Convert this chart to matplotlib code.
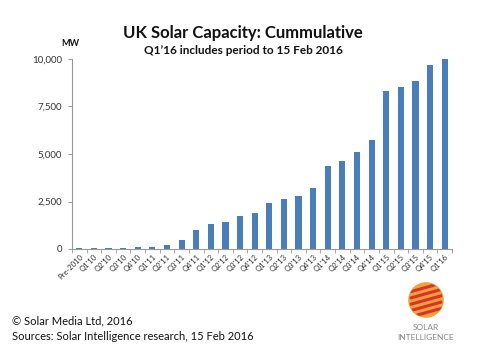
import matplotlib
matplotlib.use("Agg")
import matplotlib.pyplot as plt
import numpy as np
from matplotlib.patches import Circle

plt.rcParams['font.family'] = ['Lato', 'DejaVu Sans']

categories = ["Pre-2010", "Q1'10", "Q2'10", "Q3'10", "Q4'10",
              "Q1'11", "Q2'11", "Q3'11", "Q4'11",
              "Q1'12", "Q2'12", "Q3'12", "Q4'12",
              "Q1'13", "Q2'13", "Q3'13", "Q4'13",
              "Q1'14", "Q2'14", "Q3'14", "Q4'14",
              "Q1'15", "Q2'15", "Q3'15", "Q4'15", "Q1'16"]
capacity_mw = [30, 35, 50, 60, 90,
               120, 210, 490, 1000,
               1300, 1440, 1735, 1890,
               2435, 2645, 2800, 3190,
               4360, 4625, 5130, 5760,
               8300, 8550, 8860, 9670, 10000]
ytick_values = [0, 2500, 5000, 7500, 10000]
ytick_labels = ["0", "2,500", "5,000", "7,500", "10,000"]

W, H = 489, 358
fig = plt.figure(figsize=(W/100, H/100), dpi=100)
fig.patch.set_facecolor("white")

ax = fig.add_axes([72/W, 1-249/H, (452-72)/W, (249-59)/H])
x = np.arange(len(categories))
ax.bar(x, capacity_mw, width=0.42, color="#4a7ebb")
ax.set_xlim(-0.5, len(categories)-0.5)
ax.set_ylim(0, 10000)
ax.set_yticks(ytick_values)
ax.set_yticklabels(ytick_labels, fontsize=7, color="#333333")
ax.set_xticks(x)
ax.set_xticklabels(categories, rotation=45, ha="right", rotation_mode="anchor",
                   fontsize=5.5, color="#333333")
ax.tick_params(axis="x", length=0, pad=3)
ax.set_xticks(np.arange(-0.5, len(categories), 1), minor=True)
ax.tick_params(axis="x", which="minor", length=3, color="#999999", direction="out")
ax.tick_params(axis="y", length=3, color="#999999", direction="out", pad=4)
for s in ["top", "right"]:
    ax.spines[s].set_visible(False)
for s in ["left", "bottom"]:
    ax.spines[s].set_color("#999999")
    ax.spines[s].set_linewidth(0.8)

fig.text(243/W, 1-33/H, "UK Solar Capacity: Cummulative", ha="center", va="center",
         fontsize=12, fontweight="bold", color="#111111")
fig.text(243/W, 1-50/H, "Q1\u201916 includes period to 15 Feb 2016", ha="center", va="center",
         fontsize=8.5, fontweight="bold", color="#111111")
fig.text(70/W, 1-43/H, "MW", ha="center", va="center", fontsize=6.5,
         fontweight="bold", color="#111111")

fig.text(12/W, 1-321/H, "\u00a9 Solar Media Ltd, 2016", ha="left", va="center",
         fontsize=8, color="#111111")
fig.text(12/W, 1-336/H, "Sources: Solar Intelligence research, 15 Feb 2016", ha="left",
         va="center", fontsize=8, color="#111111")

# logo
fig.text(426/W, 1-328/H, "SOLAR", ha="center", va="center", fontsize=6, color="#888888")
fig.text(426/W, 1-338/H, "INTELLIGENCE", ha="center", va="center", fontsize=6, color="#888888")
lax = fig.add_axes([408/W, 1-318/H, 36/W, 36/H])
lax.set_xlim(-1, 1); lax.set_ylim(-1, 1); lax.set_aspect("equal"); lax.axis("off")
disc = Circle((0, 0), 0.95, color="#f2a23a")
lax.add_patch(disc)
for yy in np.linspace(-0.7, 0.7, 5):
    ln, = lax.plot([-0.9, 0.9], [yy-0.25, yy+0.25], color="#d8322a", lw=2.2,
                   solid_capstyle="butt")
    ln.set_clip_path(disc)

fig.savefig("out.png", dpi=100, facecolor="white")
